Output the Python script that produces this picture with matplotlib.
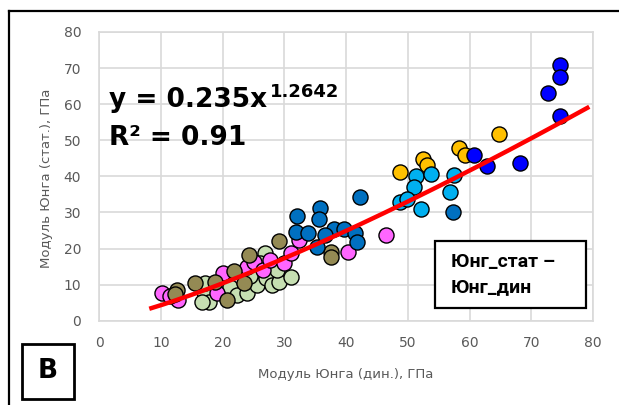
import numpy as np
import matplotlib.pyplot as plt
from matplotlib.patches import Rectangle
from matplotlib.lines import Line2D

# dynamic vs static Young's modulus, GPa, one group per colour
green_x = [16.9, 17.7, 19.3, 21.2, 22.3, 23.9, 25.6, 27.0, 28.0, 29.1, 31.0, 26.9, 28.8, 24.5, 26.0, 17.2, 16.6]
green_y = [8.0, 5.3, 9.9, 9.4, 7.1, 7.6, 9.9, 11.8, 9.9, 10.8, 12.2, 18.7, 14.1, 12.5, 16.0, 10.4, 5.3]

pink_x = [10.1, 12.7, 11.5, 19.1, 20.1, 23.9, 25.0, 26.6, 27.7, 29.9, 31.0, 32.3, 40.3, 46.5]
pink_y = [7.6, 5.7, 6.8, 7.6, 13.1, 15.0, 16.4, 14.1, 16.8, 15.9, 18.7, 22.4, 18.9, 23.8]

olive_x = [12.6, 12.2, 15.5, 18.8, 21.8, 23.4, 20.7, 24.2, 29.1, 37.5, 37.5]
olive_y = [8.5, 7.4, 10.4, 10.8, 13.9, 10.4, 5.7, 18.2, 22.2, 19.1, 17.7]

dblue_x = [42.2, 57.3, 35.7, 35.6, 32.1, 31.8, 33.9, 35.2, 38.0, 36.6, 39.6, 41.5, 41.8]
dblue_y = [34.3, 30.0, 31.2, 28.1, 29.0, 24.7, 24.2, 20.5, 25.3, 23.8, 25.3, 24.2, 21.9]

gold_x = [48.8, 52.5, 53.1, 58.3, 59.2, 64.7]
gold_y = [41.1, 44.7, 43.2, 47.8, 45.9, 51.7]

lblue_x = [51.3, 53.8, 51.0, 48.8, 49.9, 52.2, 57.5, 56.8]
lblue_y = [40.1, 40.7, 37.0, 33.0, 33.7, 30.9, 40.4, 35.6]

blue_x = [74.7, 74.7, 72.7, 74.7, 60.7, 62.8, 68.1]
blue_y = [70.9, 67.4, 63.0, 56.6, 45.9, 43.0, 43.6]

# power trend y = a * x^b
coef_a = 0.235
coef_b = 1.2642
r2 = 0.91
trend_from, trend_to = 8.1, 79.4

groups = [
    (green_x, green_y, '#C6DFB2'),
    (pink_x, pink_y, '#FF66FF'),
    (olive_x, olive_y, '#948A54'),
    (dblue_x, dblue_y, '#0070C0'),
    (gold_x, gold_y, '#FFC000'),
    (lblue_x, lblue_y, '#00B0F0'),
    (blue_x, blue_y, '#0000FF'),
]

grey = '#595959'
fig = plt.figure(figsize=(6.19, 4.05), dpi=100)
ax = fig.add_axes([0.1604, 0.2081, 0.7976, 0.713])

for xs, ys, c in groups:
    ax.scatter(xs, ys, s=118, color=c, edgecolors='black', linewidths=1.0, zorder=3)

xt = np.linspace(trend_from, trend_to, 200)
ax.plot(xt, coef_a * xt ** coef_b, color='#FF0000', lw=3.2, zorder=4, solid_capstyle='butt')

ax.set_xlim(0, 80)
ax.set_ylim(0, 80)
ax.set_xticks(range(0, 81, 10))
ax.set_yticks(range(0, 81, 10))
ax.grid(True, color='#D9D9D9', lw=1.2, zorder=0)
ax.set_axisbelow(True)
for sp in ax.spines.values():
    sp.set_color('#D9D9D9')
    sp.set_linewidth(1.2)
ax.tick_params(length=0, colors=grey, labelsize=10)
ax.tick_params(axis='x', pad=11)
ax.tick_params(axis='y', pad=13)

fig.text(0.559, 0.076, 'Модуль Юнга (дин.), ГПа', ha='center', va='center',
         fontsize=9.5, color=grey)
fig.text(0.075, 0.56, 'Модуль Юнга (стат.), ГПа', ha='center', va='center',
         rotation=90, fontsize=9.5, color=grey)

# equation and R^2
eq = ax.text(0.019, 0.74, 'y = 0.235x', transform=ax.transAxes, fontsize=19,
             fontweight='bold', color='black', zorder=5)
ax.annotate(f'{coef_b}', xy=(1.0, 1.0), xycoords=eq, xytext=(2, 3),
            textcoords='offset points', ha='left', va='top',
            fontsize=13, fontweight='bold', zorder=5)
ax.text(0.019, 0.61, f'R² = {r2}', transform=ax.transAxes, fontsize=19,
        fontweight='bold', color='black', zorder=5)

# series caption box
ax.add_patch(Rectangle((0.680, 0.044), 0.305, 0.232, transform=ax.transAxes,
                       facecolor='white', edgecolor='black', lw=1.6, zorder=6))
ax.text(0.712, 0.16, 'Юнг_стат –\nЮнг_дин', transform=ax.transAxes,
        fontsize=14, fontweight='bold', family=['Roboto', 'DejaVu Sans'],
        va='center', ha='left', linespacing=1.45, zorder=7)

# panel letter
fig.patches.append(Rectangle((22 / 619, 1 - 399 / 405), 52 / 619, 55 / 405,
                             transform=fig.transFigure, facecolor='white',
                             edgecolor='black', lw=2.0))
fig.text(48 / 619, 1 - 371 / 405, 'В', ha='center', va='center', fontsize=19,
         fontweight='bold')

# outer frame, top and left
fig.lines.append(Line2D([9 / 619, 1], [1 - 11 / 405, 1 - 11 / 405],
                        transform=fig.transFigure, color='black', lw=1.6))
fig.lines.append(Line2D([9 / 619, 9 / 619], [0, 1 - 11 / 405],
                        transform=fig.transFigure, color='black', lw=1.6))

fig.savefig('out.png', dpi=100, facecolor='white')
